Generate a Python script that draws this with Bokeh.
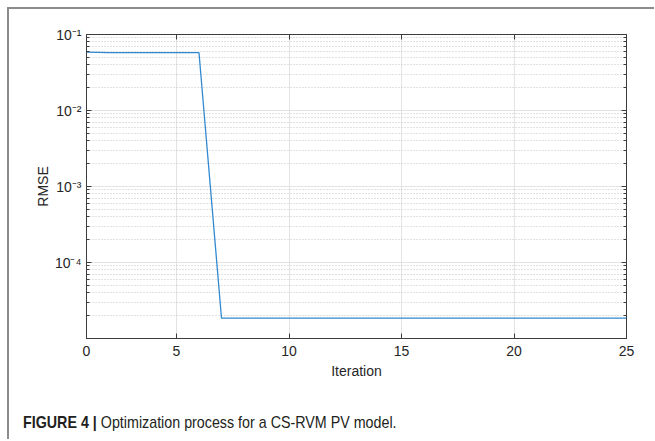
from bokeh.plotting import figure
from bokeh.layouts import column
from bokeh.models import FixedTicker, LinearAxis, LogAxis, Range1d, Div
from bokeh.embed import file_html
from bokeh.resources import INLINE

# ---- data ----
iterations = [1, 2, 3, 4, 5, 6, 7, 8, 9, 10, 11, 12, 13, 14, 15, 16, 17, 18,
              19, 20, 21, 22, 23, 24, 25]
rmse = [0.0585, 0.0576, 0.0576, 0.0576, 0.0576, 0.0576,
        1.85e-5, 1.85e-5, 1.85e-5, 1.85e-5, 1.85e-5, 1.85e-5, 1.85e-5,
        1.85e-5, 1.85e-5, 1.85e-5, 1.85e-5, 1.85e-5, 1.85e-5, 1.85e-5,
        1.85e-5, 1.85e-5, 1.85e-5, 1.85e-5, 1.85e-5]

x_ticks = [1, 5, 10, 15, 20, 25]
x_tick_labels = ["0", "5", "10", "15", "20", "25"]
y_ticks = [1e-1, 1e-2, 1e-3, 1e-4]
y_tick_labels = ["10\u207b\u00b9", "10\u207b\u00b2", "10\u207b\u00b3", "10\u207b\u2074"]
y_minor = [m * 10.0 ** k for k in (-5, -4, -3, -2) for m in range(2, 10)]

x_label = "Iteration"
y_label = "RMSE"
caption_bold = "FIGURE 4 |"
caption_text = "Optimization process for a CS-RVM PV model."

FONT = "Liberation Sans"
AX = "#3c3c3c"
TXT = "#262626"

W = 645
p = figure(width=W, height=390, y_axis_type="log",
           x_range=Range1d(1, 25), y_range=Range1d(1.0e-5, 1e-1),
           output_backend="svg", toolbar_location=None,
           min_border_left=77, min_border_right=28,
           min_border_top=25, min_border_bottom=61,
           background_fill_color="white", border_fill_color="white")
p.outline_line_color = AX
p.outline_line_width = 1

p.line(iterations, rmse, line_color="#3089d0", line_width=1.3)

xt = FixedTicker(ticks=x_ticks)
yt = FixedTicker(ticks=y_ticks, minor_ticks=y_minor)

def style_axis(ax, labels=True):
    ax.axis_line_color = AX
    ax.major_tick_line_color = AX
    ax.minor_tick_line_color = AX
    ax.major_tick_in = 5
    ax.major_tick_out = 0
    ax.minor_tick_in = 3
    ax.minor_tick_out = 0
    ax.major_label_text_font = FONT
    ax.major_label_text_font_size = "14px" if labels else "1px"
    ax.major_label_text_color = TXT if labels else None
    ax.axis_label_text_font = FONT
    ax.axis_label_text_font_size = "14px"
    ax.axis_label_text_font_style = "normal"
    ax.axis_label_text_color = TXT

xa = p.xaxis[0]
xa.ticker = xt
xa.axis_label = x_label
xa.major_label_overrides = dict(zip(x_ticks, x_tick_labels))
xa.major_label_standoff = 7
xa.axis_label_standoff = 4
style_axis(xa)
xa.minor_tick_in = 0

ya = p.yaxis[0]
ya.ticker = yt
ya.axis_label = y_label
ya.major_label_overrides = dict(zip(y_ticks, y_tick_labels))
ya.major_label_standoff = 5
ya.axis_label_standoff = 1
style_axis(ya)

top = LinearAxis(ticker=xt)
style_axis(top, labels=False)
top.minor_tick_in = 0
top.major_label_standoff = 0
p.add_layout(top, "above")

right = LogAxis(ticker=yt)
style_axis(right, labels=False)
right.major_label_standoff = 0
p.add_layout(right, "right")

p.xgrid.ticker = xt
p.xgrid.grid_line_color = "#e3e3e3"
p.ygrid.grid_line_color = "#e3e3e3"
p.ygrid.minor_grid_line_color = "#c4c4c4"
p.ygrid.minor_grid_line_dash = "1 2"

# caption below the chart (real HTML text)
cap_html = (
    '<div style="font-family:\'Liberation Sans\',Arial,sans-serif;font-size:17px;'
    'line-height:18px;color:#231f20;white-space:nowrap;padding:15px 0 0 14px;">'
    '<span style="display:inline-block;transform:scaleX(0.84);transform-origin:0 50%;">'
    '<b>' + caption_bold + '</b> ' + caption_text + '</span></div>'
)
cap = Div(text=cap_html, width=W, height=40, margin=0)

layout = column(p, cap, spacing=0)
layout.styles = {"margin-left": "7px", "margin-top": "7px",
                 "border-left": "2px solid #8c8c8c", "border-top": "2px solid #8c8c8c"}

open("out.html", "w").write(file_html(layout, INLINE))
